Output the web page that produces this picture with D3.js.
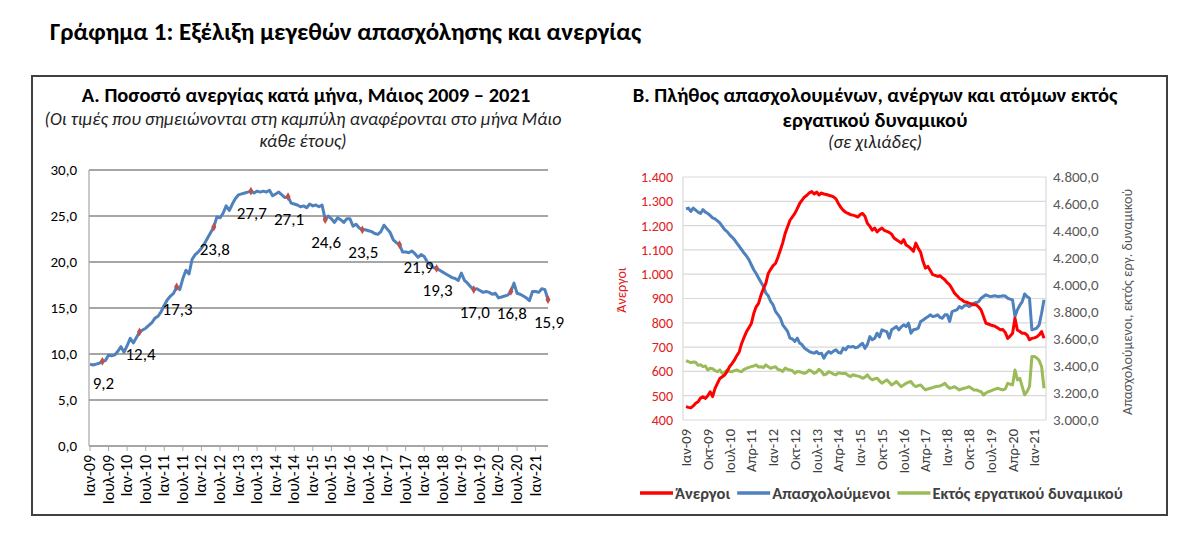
<!DOCTYPE html>
<html lang="el">
<head>
<meta charset="UTF-8">
<title>Γράφημα 1: Εξέλιξη μεγεθών απασχόλησης και ανεργίας</title>
<script src="https://d3js.org/d3.v7.min.js"></script>
<style>
  body { margin: 0; background: #fff; }
  svg { display: block; font-family: Carlito, Calibri, "Open Sans", sans-serif; }
</style>
</head>
<body>
<svg id="chart" width="1200" height="544"></svg>
<script>
// Monthly data, Ιαν-09 .. Μαϊ-21 (149 months)
const monthNames = ["Ιαν", "Φεβ", "Μαρ", "Απρ", "Μαϊ", "Ιουν", "Ιουλ", "Αυγ", "Σεπ", "Οκτ", "Νοε", "Δεκ"];
const firstYear = 2009;

// A. unemployment rate (%)
const unemploymentRate = [
  8.9, 8.8, 8.9, 9.0, 9.2, 9.3, 9.9, 9.8, 9.9, 10.3, 10.8, 10.2,
  10.9, 11.7, 11.2, 11.8, 12.4, 12.6, 12.8, 13.1, 13.4, 13.9, 14.1, 14.6,
  15.3, 15.9, 16.3, 16.6, 17.3, 17.0, 18.2, 19.1, 18.7, 20.3, 20.8, 21.1,
  21.5, 22.0, 22.6, 23.2, 23.8, 24.9, 24.8, 25.3, 26.1, 25.6, 26.3, 26.9,
  27.3, 27.4, 27.5, 27.6, 27.7, 27.5, 27.7, 27.6, 27.7, 27.6, 27.8, 27.2,
  27.4, 27.6, 27.3, 27.0, 27.1, 26.4, 26.3, 26.2, 26.0, 26.1, 25.9, 26.3,
  26.1, 26.2, 26.0, 26.2, 24.6, 25.0, 24.7, 24.3, 24.8, 24.6, 24.3, 24.7,
  24.7, 23.9, 24.1, 23.7, 23.5, 23.5, 23.4, 23.3, 23.1, 23.0, 23.3, 24.0,
  23.6, 23.2, 22.4, 22.1, 21.9, 21.1, 21.1, 21.0, 21.2, 20.9, 20.5, 20.8,
  20.6, 20.0, 19.7, 19.4, 19.3, 19.1, 18.9, 18.7, 18.5, 18.3, 18.2, 18.0,
  18.8, 18.0, 17.7, 17.3, 17.0, 17.1, 16.9, 16.7, 16.8, 16.7, 16.5, 16.6,
  16.1, 16.2, 16.3, 16.4, 16.8, 17.7, 16.6, 16.5, 16.3, 16.1, 15.8, 16.8,
  16.8, 16.7, 17.1, 17.0, 15.9
];

// B. thousands of persons
const unemployed = [
  455, 452, 450, 458, 469, 475, 490, 496, 489, 500, 516, 496,
  530, 551, 571, 578, 585, 600, 619, 632, 646, 665, 680, 715,
  740, 763, 780, 797, 838, 866, 880, 914, 940, 962, 1003, 1020,
  1035, 1044, 1070, 1099, 1130, 1168, 1195, 1222, 1236, 1250, 1270, 1291,
  1305, 1318, 1325, 1335, 1340, 1330, 1338, 1326, 1334, 1330, 1328, 1325,
  1322, 1318, 1310, 1291, 1275, 1263, 1255, 1250, 1245, 1243, 1240, 1235,
  1245, 1250, 1238, 1209, 1197, 1181, 1190, 1174, 1183, 1190, 1180, 1176,
  1172, 1165, 1149, 1142, 1135, 1128, 1142, 1120, 1114, 1105, 1094, 1128,
  1107, 1090, 1052, 1025, 1032, 1015, 998, 995, 991, 994, 985, 977,
  965, 956, 940, 922, 912, 901, 895, 887, 885, 881, 878, 874,
  874, 865, 853, 826, 798, 795, 791, 788, 784, 778, 771, 772,
  760, 736, 745, 757, 819, 770, 764, 757, 757, 750, 730, 736,
  738, 742, 750, 764, 736
];

const employed = [
  4563, 4570, 4545, 4570, 4555, 4540, 4530, 4558, 4540, 4530, 4515, 4497,
  4490, 4475, 4460, 4435, 4410, 4395, 4373, 4355, 4336, 4310, 4287, 4262,
  4237, 4215, 4188, 4150, 4113, 4085, 4052, 4020, 3990, 3940, 3920, 3878,
  3853, 3804, 3780, 3755, 3705, 3680, 3656, 3606, 3600, 3582, 3606, 3570,
  3557, 3532, 3520, 3507, 3500, 3495, 3507, 3490, 3495, 3458, 3490, 3507,
  3495, 3510, 3520, 3500, 3495, 3532, 3520, 3545, 3540, 3545, 3535, 3540,
  3555, 3568, 3531, 3560, 3618, 3594, 3605, 3643, 3615, 3668, 3660, 3655,
  3606, 3668, 3680, 3692, 3668, 3690, 3705, 3692, 3717, 3643, 3668, 3672,
  3680, 3730, 3740, 3754, 3765, 3779, 3766, 3770, 3779, 3760, 3754, 3779,
  3779, 3730, 3803, 3810, 3816, 3840, 3828, 3845, 3853, 3840, 3850, 3865,
  3870, 3877, 3902, 3915, 3927, 3920, 3914, 3918, 3920, 3914, 3916, 3920,
  3918, 3902, 3895, 3890, 3766, 3816, 3850, 3877, 3933, 3914, 3902, 3668,
  3673, 3680, 3705, 3791, 3890
];

const outOfLabourForce = [
  3440, 3432, 3425, 3430, 3428, 3405, 3410, 3395, 3400, 3371, 3383, 3380,
  3365, 3358, 3371, 3346, 3355, 3371, 3360, 3358, 3365, 3371, 3362, 3358,
  3375, 3383, 3390, 3395, 3400, 3408, 3392, 3395, 3388, 3408, 3395, 3383,
  3390, 3395, 3375, 3371, 3360, 3385, 3375, 3371, 3365, 3346, 3360, 3358,
  3350, 3346, 3355, 3371, 3360, 3346, 3355, 3375, 3360, 3334, 3340, 3358,
  3350, 3340, 3334, 3350, 3346, 3345, 3346, 3330, 3321, 3335, 3330, 3325,
  3320, 3309, 3318, 3334, 3310, 3297, 3305, 3309, 3290, 3272, 3285, 3297,
  3280, 3260, 3270, 3285, 3265, 3247, 3260, 3272, 3280, 3285, 3260, 3247,
  3255, 3260, 3240, 3223, 3230, 3235, 3240, 3247, 3250, 3252, 3260, 3272,
  3250, 3235, 3240, 3247, 3235, 3223, 3230, 3235, 3240, 3247, 3235, 3223,
  3223, 3215, 3210, 3185, 3200, 3210, 3215, 3223, 3230, 3235, 3228, 3223,
  3230, 3272, 3265, 3260, 3371, 3297, 3309, 3247, 3186, 3210, 3247, 3470,
  3470, 3460, 3440, 3396, 3235
];

const leftTicks = [0, 5, 10, 15, 20, 25, 30];
const unemployedTicks = [400, 500, 600, 700, 800, 900, 1000, 1100, 1200, 1300, 1400];
const employedTicks = [3000, 3200, 3400, 3600, 3800, 4000, 4200, 4400, 4600, 4800];

const seriesB = [
  { name: "Άνεργοι", values: unemployed, color: "#ff0000", axis: "left" },
  { name: "Απασχολούμενοι", values: employed, color: "#4f81bd", axis: "right" },
  { name: "Εκτός εργατικού δυναμικού", values: outOfLabourForce, color: "#9bbb59", axis: "right" }
];

const gr = d3.formatLocale({ decimal: ",", thousands: ".", grouping: [3], currency: ["€", ""] });
const fmt1 = gr.format(".1f");
const fmtInt = gr.format(",.0f");
const fmtThou1 = gr.format(",.1f");
const monthLabel = m => monthNames[m % 12] + "-" + String((firstYear + Math.floor(m / 12)) % 100).padStart(2, "0");

const svg = d3.select("#chart");

// frame + main title
svg.append("rect")
  .attr("x", 32).attr("y", 76).attr("width", 1135).attr("height", 439)
  .attr("fill", "none").attr("stroke", "#404040").attr("stroke-width", 2);

svg.append("text")
  .attr("x", 50).attr("y", 40)
  .attr("font-size", 25).attr("font-weight", "bold")
  .text("Γράφημα 1: Εξέλιξη μεγεθών απασχόλησης και ανεργίας");

// ---------- panel A ----------
const gA = svg.append("g");
gA.append("text").attr("x", 306).attr("y", 102).attr("text-anchor", "middle")
  .attr("font-size", 20.5).attr("font-weight", "bold")
  .text("A. Ποσοστό ανεργίας κατά μήνα, Μάιος 2009 – 2021");
gA.append("text").attr("x", 303).attr("y", 125).attr("text-anchor", "middle")
  .attr("font-size", 18).attr("font-style", "italic").attr("fill", "#222")
  .text("(Οι τιμές που σημειώνονται στη καμπύλη αναφέρονται στο μήνα Μάιο");
gA.append("text").attr("x", 303).attr("y", 147).attr("text-anchor", "middle")
  .attr("font-size", 18).attr("font-style", "italic").attr("fill", "#222")
  .text("κάθε έτους)");

const months = d3.range(unemploymentRate.length);
const xA = d3.scaleLinear().domain([0, months.length - 1]).range([90, 548]);
const yA = d3.scaleLinear().domain([0, 30]).range([446, 170]);

gA.selectAll(".gridA").data(leftTicks).join("line")
  .attr("x1", 89).attr("x2", 548)
  .attr("y1", d => yA(d)).attr("y2", d => yA(d))
  .attr("stroke", "#a6a6a6").attr("stroke-width", 2);
gA.append("line").attr("x1", 89).attr("x2", 89).attr("y1", yA(30)).attr("y2", yA(0))
  .attr("stroke", "#a6a6a6").attr("stroke-width", 1.2);
gA.selectAll(".ytA").data(leftTicks).join("text")
  .attr("x", 77).attr("y", d => yA(d)).attr("dy", "0.35em")
  .attr("text-anchor", "end").attr("font-size", 15)
  .text(d => fmt1(d));

const xTicksA = months.filter(m => m % 6 === 0);
gA.selectAll(".xtkA").data(xTicksA).join("line")
  .attr("x1", d => xA(d)).attr("x2", d => xA(d))
  .attr("y1", yA(0)).attr("y2", yA(0) + 5)
  .attr("stroke", "#a6a6a6").attr("stroke-width", 1);
gA.selectAll(".xlA").data(xTicksA).join("text")
  .attr("transform", d => `translate(${xA(d) + 5},455) rotate(-90)`)
  .attr("text-anchor", "end").attr("font-size", 16)
  .text(d => monthLabel(d));

gA.append("path")
  .datum(unemploymentRate)
  .attr("fill", "none").attr("stroke", "#4f81bd").attr("stroke-width", 3)
  .attr("stroke-linejoin", "round")
  .attr("d", d3.line().x((d, i) => xA(i)).y(d => yA(d)));

const mayPoints = months.filter(m => m % 12 === 4);
gA.selectAll(".mk").data(mayPoints).join("path")
  .attr("d", d3.symbol(d3.symbolDiamond, 22))
  .attr("transform", d => `translate(${xA(d)},${yA(unemploymentRate[d])})`)
  .attr("fill", "#c0504d");
gA.selectAll(".lbA").data(mayPoints).join("text")
  .attr("x", d => xA(d) + (d === 100 ? 19 : 1))
  .attr("y", d => yA(unemploymentRate[d]) + 28)
  .attr("text-anchor", "middle").attr("font-size", 17)
  .text(d => fmt1(unemploymentRate[d]));

// ---------- panel B ----------
const gB = svg.append("g");
gB.append("text").attr("x", 875).attr("y", 102).attr("text-anchor", "middle")
  .attr("font-size", 20.5).attr("font-weight", "bold")
  .text("B. Πλήθος απασχολουμένων, ανέργων και ατόμων εκτός");
gB.append("text").attr("x", 875).attr("y", 127).attr("text-anchor", "middle")
  .attr("font-size", 20.5).attr("font-weight", "bold")
  .text("εργατικού δυναμικού");
gB.append("text").attr("x", 875).attr("y", 148).attr("text-anchor", "middle")
  .attr("font-size", 18).attr("font-style", "italic").attr("fill", "#222")
  .text("(σε χιλιάδες)");

const xB = d3.scaleLinear().domain([0, months.length - 1]).range([686, 1044]);
const yL = d3.scaleLinear().domain([400, 1400]).range([420, 177]);
const yR = d3.scaleLinear().domain([3000, 4800]).range([420, 177]);

gB.selectAll(".gridB").data(unemployedTicks).join("line")
  .attr("x1", 683).attr("x2", 1046)
  .attr("y1", d => yL(d)).attr("y2", d => yL(d))
  .attr("stroke", "#d9d9d9").attr("stroke-width", 1.2);
gB.append("line").attr("x1", 683).attr("x2", 683).attr("y1", yL(1400)).attr("y2", yL(400))
  .attr("stroke", "#d9d9d9").attr("stroke-width", 1.2);
gB.append("line").attr("x1", 1046).attr("x2", 1046).attr("y1", yL(1400)).attr("y2", yL(400))
  .attr("stroke", "#d9d9d9").attr("stroke-width", 1.2);

gB.selectAll(".ytL").data(unemployedTicks).join("text")
  .attr("x", 673).attr("y", d => yL(d)).attr("dy", "0.35em")
  .attr("text-anchor", "end").attr("font-size", 14).attr("fill", "#e0201b")
  .text(d => fmtInt(d));
gB.selectAll(".ytR").data(employedTicks).join("text")
  .attr("x", 1053).attr("y", d => yR(d)).attr("dy", "0.35em")
  .attr("font-size", 15).attr("fill", "#595959")
  .text(d => fmtThou1(d));

gB.append("text")
  .attr("transform", "translate(626,290) rotate(-90)")
  .attr("text-anchor", "middle").attr("font-size", 14).attr("fill", "#e0201b")
  .text("Άνεργοι");
gB.append("text")
  .attr("transform", "translate(1132,302) rotate(-90)")
  .attr("text-anchor", "middle").attr("font-size", 14).attr("fill", "#595959")
  .text("Απασχολούμενοι, εκτός εργ. δυναμικού");

const xTicksB = months.filter(m => m % 9 === 0);
gB.selectAll(".xlB").data(xTicksB).join("text")
  .attr("transform", d => `translate(${xB(d) + 5},429) rotate(-90)`)
  .attr("text-anchor", "end").attr("font-size", 14.5).attr("fill", "#404040")
  .text(d => monthLabel(d));

const lineB = s => d3.line()
  .x((d, i) => xB(i))
  .y(d => (s.axis === "left" ? yL(d) : yR(d)));

gB.selectAll(".seriesB").data(seriesB.slice().reverse()).join("path")
  .attr("fill", "none")
  .attr("stroke", d => d.color).attr("stroke-width", 3)
  .attr("stroke-linejoin", "round")
  .attr("d", d => lineB(d)(d.values));

// legend
const legend = gB.append("g").attr("transform", "translate(640,493)");
let lx = 0;
seriesB.forEach(s => {
  legend.append("line").attr("x1", lx).attr("x2", lx + 33)
    .attr("stroke", s.color).attr("stroke-width", 3.5);
  const t = legend.append("text").attr("x", lx + 35).attr("dy", "0.35em")
    .attr("font-size", 16.5).attr("font-weight", "bold").attr("fill", "#404040")
    .text(s.name);
  lx += 35 + t.node().getComputedTextLength() + 7;
});
</script>
</body>
</html>
